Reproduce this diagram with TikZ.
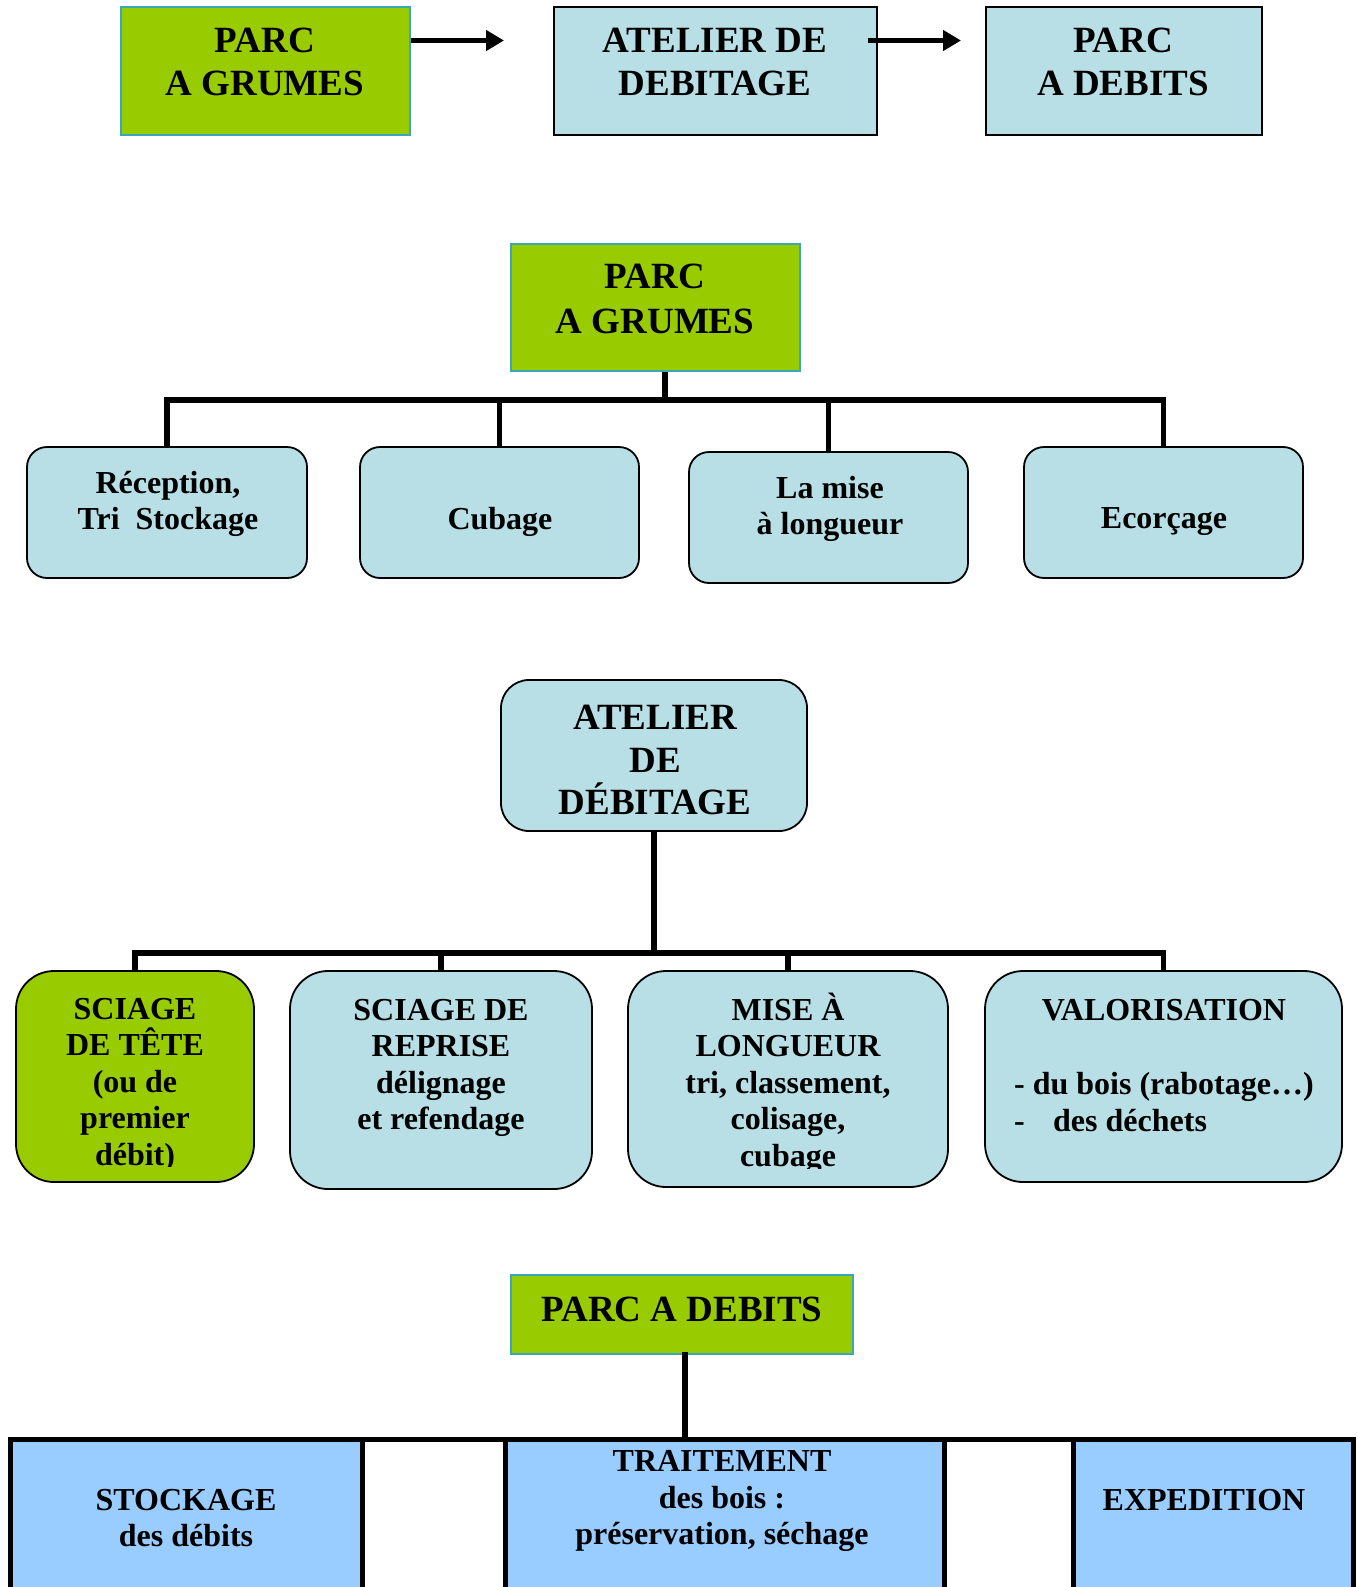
\documentclass[tikz,border=0pt]{standalone}
\usepackage{fontspec}
\setmainfont{Liberation Serif}
\usetikzlibrary{arrows.meta,backgrounds,calc}
\definecolor{lblue}{HTML}{B8DFE5}
\definecolor{lgreen}{HTML}{99CC00}
\definecolor{sky}{HTML}{99CCFF}
\definecolor{tealb}{HTML}{3AA6B9}
\newcommand\fbig{\fontsize{37}{42.5}\selectfont\bfseries}
\newcommand\fbigb{\fontsize{37}{44.5}\selectfont\bfseries}
\newcommand\fmid{\fontsize{32}{36.5}\selectfont\bfseries}
\begin{document}
\begin{tikzpicture}[x=1pt,y=-1pt,
  sq/.style={draw=black, line width=1.8pt, fill=lblue, inner sep=0pt},
  gsq/.style={draw=tealb, line width=1.8pt, fill=lgreen, inner sep=0pt},
  rbox/.style={draw=black, line width=1.8pt, fill=lblue, inner sep=0pt, rounded corners=#1},
  bluebox/.style={fill=sky, inner sep=0pt, anchor=north west, minimum height=170pt},
  tA/.style={align=center, inner sep=0pt, font=\fbig},
  tAb/.style={align=center, inner sep=0pt, font=\fbigb},
  tM/.style={align=center, inner sep=0pt, font=\fmid},
  conn/.style={line width=5.5pt, line cap=rect, line join=miter},
  frame/.style={line width=5pt, line cap=rect, line join=miter},
  arr/.style={line width=5pt, -{Triangle[length=18pt,width=20pt]}}
]
\useasboundingbox (0,0) rectangle (1357,1587);
\clip (0,0) rectangle (1357,1587);

% ---------- top row ----------
\node[gsq, minimum width=289pt, minimum height=128pt] (tg) at (265.5,71) {};
\node[sq, minimum width=323pt, minimum height=128pt] (ta) at (715.5,71) {};
\node[sq, minimum width=276pt, minimum height=128pt] (tb) at (1124,71) {};
\node[tA] (tgt) at (265,62) {PARC\\A GRUMES};
\node[tA] (tat) at (715,62) {ATELIER DE\\DEBITAGE};
\node[tA] (tbt) at (1123,62) {PARC\\A DEBITS};
\coordinate (a1e) at (504,40.5);
\coordinate (a2e) at (961,40.5);
\draw[arr] (tg.east |- a1e) -- (a1e);
\draw[arr] ($(ta.east |- a2e)+(-10,0)$) -- (a2e);

% ---------- section 2 ----------
\node[gsq, minimum width=289pt, minimum height=127pt] (g2) at (655.5,307.5) {};
\node[tAb] (g2t) at (655,299) {PARC\\A GRUMES};
\node[rbox=20pt, minimum width=280pt, minimum height=131pt] (r1) at (167,512.5) {};
\node[rbox=20pt, minimum width=279pt, minimum height=131pt] (r2) at (499.5,512.5) {};
\node[rbox=20pt, minimum width=279pt, minimum height=131pt] (r3) at (828.5,517.5) {};
\node[rbox=20pt, minimum width=279pt, minimum height=131pt] (r4) at (1163.5,512.5) {};
\node[tM] (r1t) at (168,504) {Réception,\\Tri~~Stockage};
\node[tM] (r2t) at (500,522) {Cubage};
\node[tM] (r3t) at (830,509) {La mise\\à longueur};
\node[tM] (r4t) at (1164,522) {Ecorçage};
\coordinate (h2) at (665,400);
\begin{scope}[on background layer]
\draw[conn] (g2.south -| h2) -- (h2);
\draw[conn] (r1.north) -- (r1.north |- h2) -- (r4.north |- h2) -- (r4.north);
\draw[conn] (r2.north) -- (r2.north |- h2);
\draw[conn] (r3.north) -- (r3.north |- h2);
\end{scope}

% ---------- section 3 ----------
\node[rbox=28pt, minimum width=306pt, minimum height=151pt] (a3) at (654,755.5) {};
\node[tA] (a3t) at (655,760) {ATELIER\\DE\\DÉBITAGE};
\node[rbox=38pt, fill=lgreen, minimum width=238pt, minimum height=211pt] (s1) at (135,1076.5) {};
\node[rbox=38pt, minimum width=302pt, minimum height=218pt] (s2) at (441,1080) {};
\node[rbox=38pt, minimum width=320pt, minimum height=216pt] (s3) at (788,1079) {};
\node[rbox=38pt, minimum width=357pt, minimum height=211pt] (s4) at (1163.5,1076.5) {};
\begin{scope}
\clip (20,980) rectangle (250,1166);
\node[tM] (s1t) at (135,1085) {SCIAGE\\DE TÊTE\\(ou de\\premier\\débit)};
\end{scope}
\node[tM] (s2t) at (441,1068) {SCIAGE DE\\REPRISE\\délignage\\et refendage};
\begin{scope}
\clip (630,980) rectangle (945,1168);
\node[tM] (s3t) at (788,1083) {MISE À\\LONGUEUR\\tri, classement,\\colisage,\\cubage};
\end{scope}
\node[tM] (s4t) at (1164,1010) {VALORISATION};
\node[tM, align=left, anchor=west] (s4l) at (1014,1102) {- du bois (rabotage…)\\\makebox[39pt][l]{-}des déchets};
\coordinate (h3) at (654,953);
\begin{scope}[on background layer]
\draw[conn] (a3.south) -- (h3);
\draw[conn] (s1.north) -- (s1.north |- h3) -- (s4.north |- h3) -- (s4.north);
\draw[conn] (s2.north) -- (s2.north |- h3);
\draw[conn] (s3.north) -- (s3.north |- h3);
\end{scope}

% ---------- section 4 ----------
\node[gsq, minimum width=342pt, minimum height=79pt] (pd) at (682,1314.5) {};
\node[tA] (pdt) at (682,1309) {PARC A DEBITS};
\node[bluebox, minimum width=352pt] (b1) at (10,1439) {};
\node[bluebox, minimum width=439pt] (b2) at (505,1439) {};
\node[bluebox, minimum width=280pt] (b3) at (1073,1439) {};
\draw[conn] ($(pd.south)+(3,0)$) -- ($(pd.south |- b2.north)+(3,0)$);
\draw[frame] (b1.south west) -- (b1.north west) -- (b3.north east) -- (b3.south east);
\draw[frame] (b1.north east) -- (b1.south east);
\draw[frame] (b2.north west) -- (b2.south west);
\draw[frame] (b2.north east) -- (b2.south east);
\draw[frame] (b3.north west) -- (b3.south west);
\node[tM] (b1t) at (186,1518) {STOCKAGE\\des débits};
\node[tM] (b2t) at (722,1501) {TRAITEMENT\\des bois :\\préservation, séchage};
\node[tM] (b3t) at (1204,1500) {EXPEDITION};
\end{tikzpicture}
\end{document}
